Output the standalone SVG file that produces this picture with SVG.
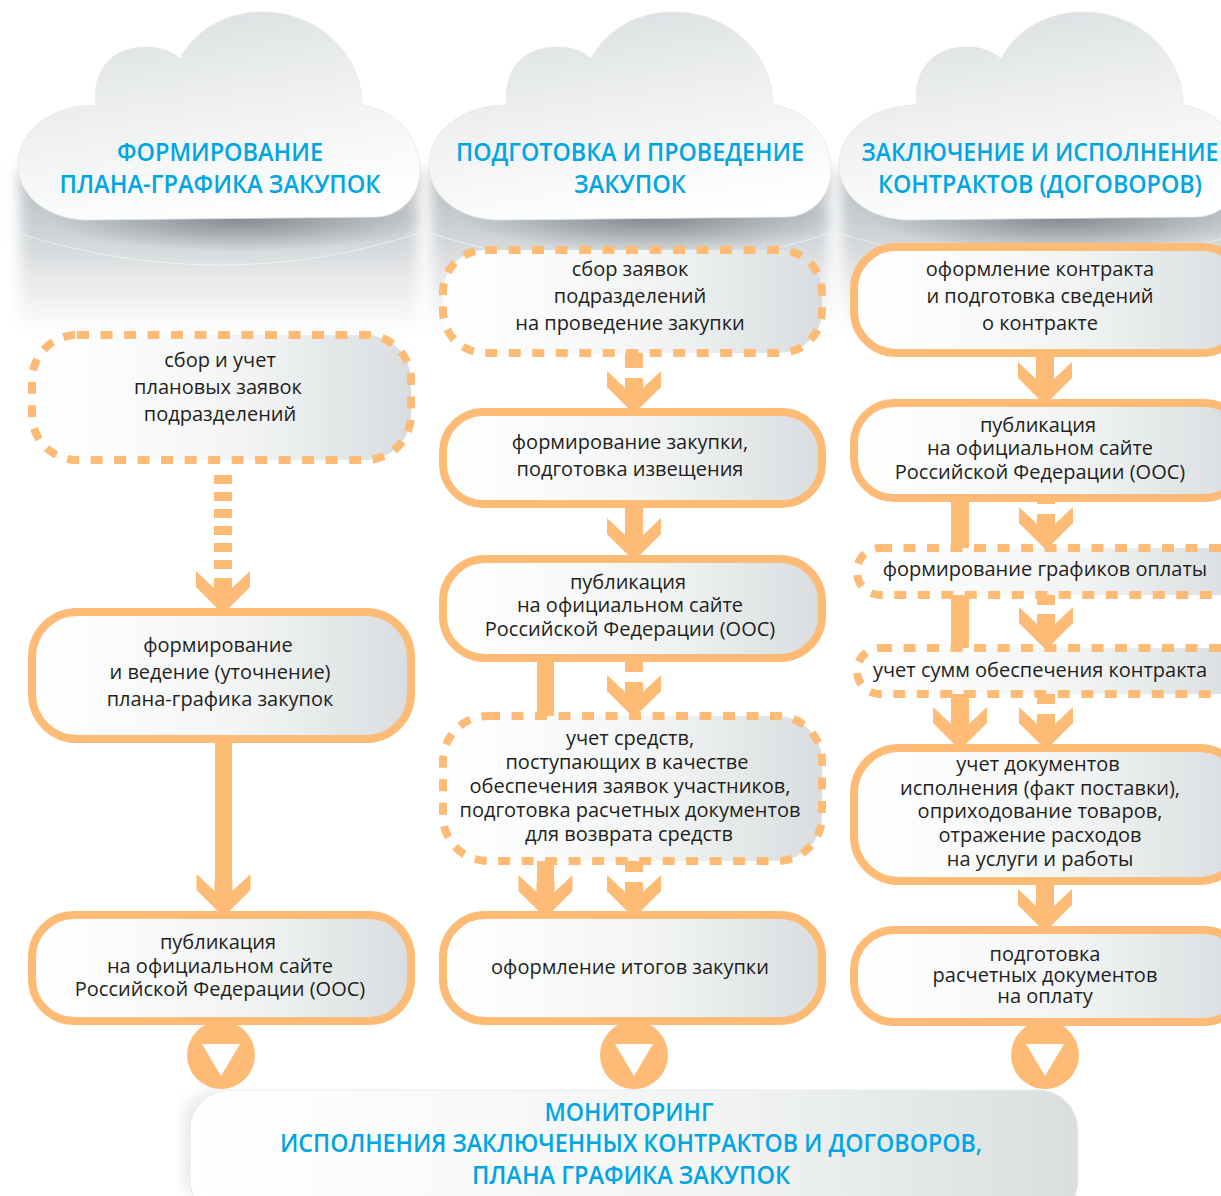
<svg xmlns="http://www.w3.org/2000/svg" xmlns:xlink="http://www.w3.org/1999/xlink" width="1221" height="1196" viewBox="0 0 1221 1196">
<style>
.h{font-family:"Open Sans","Noto Sans",sans-serif;font-weight:600;font-size:25px;fill:#00a5e3;text-anchor:middle}
.t{font-family:"Open Sans","Noto Sans",sans-serif;font-size:20px;fill:#231f20;text-anchor:middle}
.s{fill:url(#g);stroke:#fdbb76;stroke-width:8}
.d{fill:url(#g);stroke:#fdbb76;stroke-width:8;stroke-dasharray:12 11.5}
.a{fill:#fdbb76}
.ds{stroke:#fdbb76;stroke-width:18;stroke-dasharray:9 8;fill:none}
</style>
<defs>
<linearGradient id="g" x1="0" x2="1" y1="0" y2="0"><stop offset="0" stop-color="#fff"/><stop offset=".55" stop-color="#f3f5f5"/><stop offset="1" stop-color="#d9dddf"/></linearGradient>
<linearGradient id="m" x1="0" x2="1" y1="0" y2="0"><stop offset="0" stop-color="#fff"/><stop offset=".6" stop-color="#f2f4f4"/><stop offset="1" stop-color="#dadedf"/></linearGradient>
<linearGradient id="c" x1="0.3" x2="0.6" y1="0" y2="1"><stop offset="0" stop-color="#dcdfe1"/><stop offset=".5" stop-color="#f0f2f2"/><stop offset="1" stop-color="#fff"/></linearGradient>
<linearGradient id="sh" x1="0" x2="0" y1="0" y2="1"><stop offset="0" stop-color="#b4b9bd"/><stop offset=".35" stop-color="#ccd0d3"/><stop offset=".65" stop-color="#e6e8e9"/><stop offset="1" stop-color="#fff"/></linearGradient>
<radialGradient id="dk"><stop offset="0" stop-color="#6d747b" stop-opacity=".75"/><stop offset="1" stop-color="#6d747b" stop-opacity="0"/></radialGradient>
<filter id="b" x="-10%" y="-20%" width="120%" height="140%"><feGaussianBlur stdDeviation="7"/></filter>
<path id="cloud" d="M85,220 C42,218 18,192 18,165 C18,132 50,105 96,105 C92,72 110,47 146,47 C160,47 172,51 180,59 C195,30 226,12 262,12 C320,12 362,56 362,105 C396,110 420,136 420,170 C420,200 396,217 375,217 Z" fill="url(#c)" stroke="#e4e6e7" stroke-width=".8"/>
<g id="shade"><rect x="20" y="170" width="398" height="165" fill="url(#sh)" filter="url(#b)"/><ellipse cx="240" cy="218" rx="190" ry="34" fill="url(#dk)"/><path d="M18,233 Q220,297 420,233" fill="none" stroke="#fff" stroke-opacity=".5"/></g>
<path id="head" class="a" d="M-27,-37 L-9,-20 V-30 H9 V-20 L27,-37 V-21 L0,6 L-27,-21 Z"/>
</defs>
<rect width="1221" height="1196" fill="#fff"/>
<g id="shadows"><use xlink:href="#shade"/><use xlink:href="#shade" x="411"/><use xlink:href="#shade" x="821"/><rect x="183" y="1092" width="60" height="110" rx="30" fill="#d9dcde" filter="url(#b)" opacity=".6"/></g>
<g id="connectors">
<path class="ds" d="M223,475V570"/><use xlink:href="#head" x="223" y="608"/>
<rect class="a" x="215" y="742" width="17" height="140"/><use xlink:href="#head" x="223.500" y="911"/>
<rect class="a" x="625" y="353" width="18" height="15"/><use xlink:href="#head" x="634" y="408"/>
<rect class="a" x="625" y="505" width="18" height="25"/><use xlink:href="#head" x="634" y="555"/>
<rect class="a" x="625" y="658" width="18" height="14"/><use xlink:href="#head" x="634" y="712"/>
<rect class="a" x="537" y="658" width="17" height="60"/>
<rect class="a" x="537" y="860" width="17" height="30"/><use xlink:href="#head" x="545.500" y="912"/>
<rect class="a" x="625" y="860" width="18" height="12"/><use xlink:href="#head" x="634" y="912"/>
<rect class="a" x="1036" y="353" width="18" height="25"/><use xlink:href="#head" x="1045" y="399"/>
<rect class="a" x="1037" y="498" width="18" height="6"/><use xlink:href="#head" x="1046" y="544"/>
<rect class="a" x="1037" y="595" width="18" height="10"/><use xlink:href="#head" x="1046" y="644"/>
<rect class="a" x="1037" y="694" width="18" height="10"/><use xlink:href="#head" x="1046" y="744"/>
<rect class="a" x="951" y="498" width="18" height="225"/><use xlink:href="#head" x="960" y="744"/>
<rect class="a" x="1036" y="880" width="18" height="25"/><use xlink:href="#head" x="1045" y="926"/>
</g>
<g id="cloud1"><use xlink:href="#cloud"/><text class="h" x="220" y="161" textLength="206" lengthAdjust="spacingAndGlyphs">ФОРМИРОВАНИЕ</text><text class="h" x="220" y="193" textLength="321" lengthAdjust="spacingAndGlyphs">ПЛАНА-ГРАФИКА ЗАКУПОК</text></g>
<g id="cloud2"><use xlink:href="#cloud" x="411"/><text class="h" x="630" y="161" textLength="348" lengthAdjust="spacingAndGlyphs">ПОДГОТОВКА И ПРОВЕДЕНИЕ</text><text class="h" x="630" y="193" textLength="112" lengthAdjust="spacingAndGlyphs">ЗАКУПОК</text></g>
<g id="cloud3"><use xlink:href="#cloud" x="821"/><text class="h" x="1040" y="161" textLength="357" lengthAdjust="spacingAndGlyphs">ЗАКЛЮЧЕНИЕ И ИСПОЛНЕНИЕ</text><text class="h" x="1040" y="193" textLength="324" lengthAdjust="spacingAndGlyphs">КОНТРАКТОВ (ДОГОВОРОВ)</text></g>
<g id="n1"><rect class="d" x="32" y="335" width="379" height="125" rx="45"/><text class="t" x="220" y="367">сбор и учет</text><text class="t" x="218" y="394">плановых заявок</text><text class="t" x="220" y="421">подразделений</text></g>
<g id="n2"><rect class="s" x="32" y="612" width="379" height="127" rx="45"/><text class="t" x="218" y="652">формирование</text><text class="t" x="220" y="679">и ведение (уточнение)</text><text class="t" x="220" y="706">плана-графика закупок</text></g>
<g id="n3"><rect class="s" x="32" y="915" width="379" height="106" rx="42"/><text class="t" x="218" y="949">публикация</text><text class="t" x="220" y="973">на официальном сайте</text><text class="t" x="220" y="996">Российской Федерации (ООС)</text></g>
<g id="n4"><rect class="d" x="443" y="250" width="379" height="103" rx="42"/><text class="t" x="630" y="276">сбор заявок</text><text class="t" x="630" y="303">подразделений</text><text class="t" x="630" y="330">на проведение закупки</text></g>
<g id="n5"><rect class="s" x="443" y="412" width="379" height="92" rx="40"/><text class="t" x="630" y="449">формирование закупки,</text><text class="t" x="630" y="476">подготовка извещения</text></g>
<g id="n6"><rect class="s" x="443" y="559" width="379" height="99" rx="42"/><text class="t" x="628" y="589">публикация</text><text class="t" x="630" y="612">на официальном сайте</text><text class="t" x="630" y="636">Российской Федерации (ООС)</text></g>
<g id="n7"><rect class="d" x="443" y="716" width="379" height="145" rx="45"/><text class="t" x="630" y="745">учет средств,</text><text class="t" x="627" y="769">поступающих в качестве</text><text class="t" x="630" y="793">обеспечения заявок участников,</text><text class="t" x="630" y="817">подготовка расчетных документов</text><text class="t" x="629" y="841">для возврата средств</text></g>
<g id="n8"><rect class="s" x="443" y="915" width="379" height="106" rx="42"/><text class="t" x="630" y="974">оформление итогов закупки</text></g>
<g id="n9"><rect class="s" x="854" y="247" width="390" height="106" rx="42"/><text class="t" x="1040" y="276">оформление контракта</text><text class="t" x="1040" y="303">и подготовка сведений</text><text class="t" x="1040" y="330">о контракте</text></g>
<g id="n10"><rect class="s" x="854" y="403" width="390" height="95" rx="40"/><text class="t" x="1038" y="432">публикация</text><text class="t" x="1040" y="455">на официальном сайте</text><text class="t" x="1040" y="479">Российской Федерации (ООС)</text></g>
<g id="n11"><rect class="d" x="857" y="548" width="387" height="47" rx="23"/><text class="t" x="1045" y="576">формирование графиков оплаты</text></g>
<g id="n12"><rect class="d" x="857" y="648" width="387" height="46" rx="23"/><text class="t" x="1040" y="677">учет сумм обеспечения контракта</text></g>
<g id="n13"><rect class="s" x="854" y="748" width="390" height="133" rx="45"/><text class="t" x="1038" y="771">учет документов</text><text class="t" x="1040" y="795">исполнения (факт поставки),</text><text class="t" x="1040" y="818">оприходование товаров,</text><text class="t" x="1040" y="842">отражение расходов</text><text class="t" x="1040" y="866">на услуги и работы</text></g>
<g id="n14"><rect class="s" x="854" y="930" width="390" height="92" rx="40"/><text class="t" x="1045" y="961">подготовка</text><text class="t" x="1045" y="982">расчетных документов</text><text class="t" x="1045" y="1003">на оплату</text></g>
<g id="circles"><circle class="a" cx="221" cy="1055" r="34"/><path fill="#fff" d="M202,1044H240L221,1076Z"/><circle class="a" cx="634" cy="1055" r="34"/><path fill="#fff" d="M615,1044H653L634,1076Z"/><circle class="a" cx="1045" cy="1055" r="34"/><path fill="#fff" d="M1026,1044H1064L1045,1076Z"/></g>
<g id="monitor"><rect x="190" y="1090" width="888" height="130" rx="40" fill="url(#m)" stroke="#e8eaeb"/><text class="h" x="629" y="1121" textLength="169" lengthAdjust="spacingAndGlyphs">МОНИТОРИНГ</text><text class="h" x="631" y="1152" textLength="702" lengthAdjust="spacingAndGlyphs">ИСПОЛНЕНИЯ ЗАКЛЮЧЕННЫХ КОНТРАКТОВ И ДОГОВОРОВ,</text><text class="h" x="631" y="1184" textLength="318" lengthAdjust="spacingAndGlyphs">ПЛАНА ГРАФИКА ЗАКУПОК</text></g>
</svg>
